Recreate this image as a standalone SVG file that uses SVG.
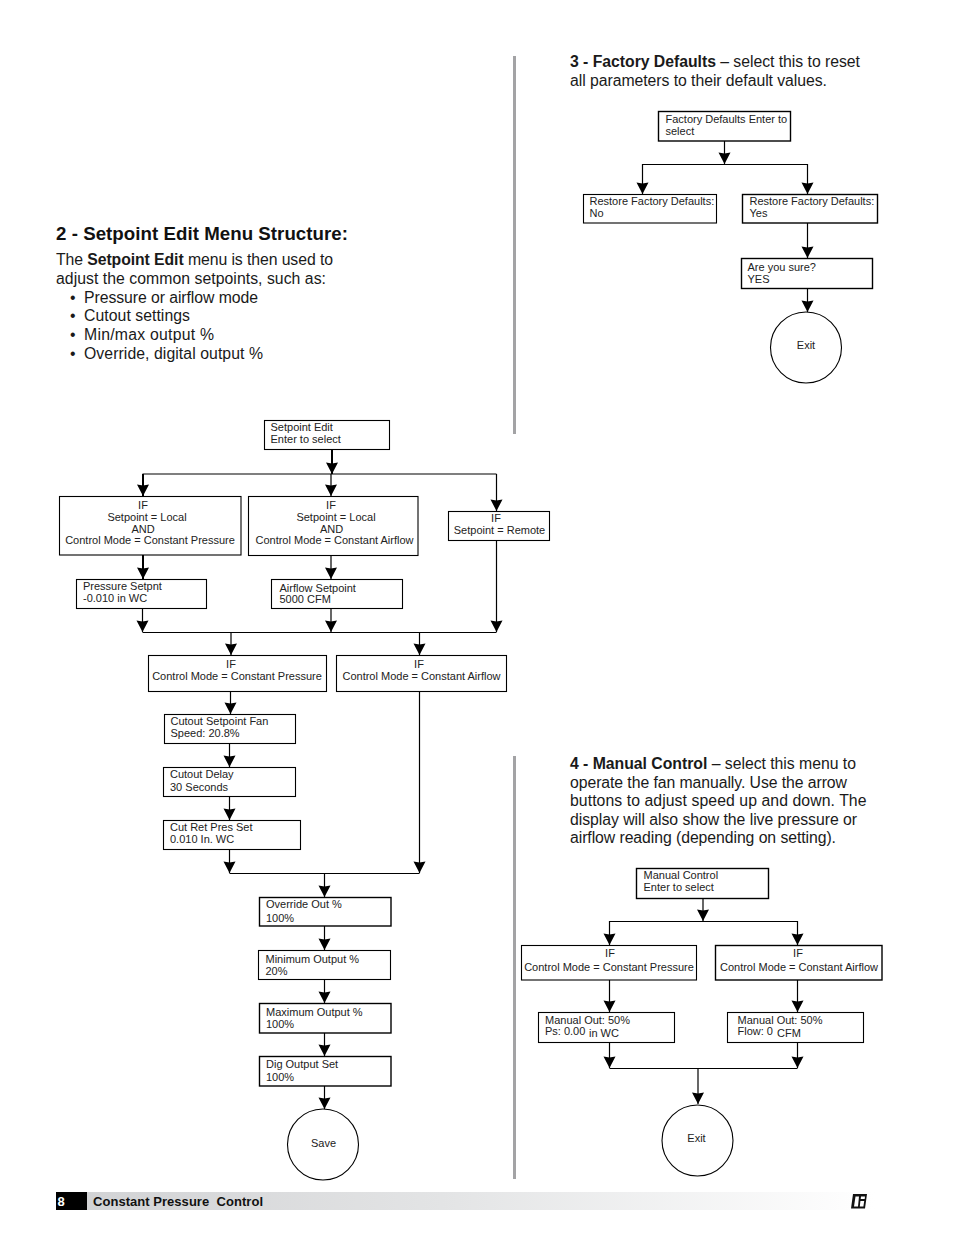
<svg xmlns="http://www.w3.org/2000/svg" width="954" height="1235" viewBox="0 0 954 1235">
<style>
text{font-family:"Liberation Sans",Arial,sans-serif;fill:#111}
.b{font-size:15.8px;fill:#1a1a1a}
.h{font-size:18.7px;font-weight:bold}
.s{font-size:11px;fill:#222}
.m{text-anchor:middle}
.n rect,.n circle{fill:#fff;stroke:#000;stroke-width:1.1}
#connectors line{stroke:#000;stroke-width:1.2}
#connectors line.a{marker-end:url(#arr)}
</style>
<defs>
<marker id="arr" markerUnits="userSpaceOnUse" markerWidth="13" markerHeight="13" refX="12" refY="6.5" orient="auto"><path d="M0.500 0.500L12 6.500L0.500 12.500L1.500 6.500Z" fill="#000"/></marker>
<linearGradient id="fg" x1="0" x2="1" y1="0" y2="0"><stop offset="0" stop-color="#d2d3d5"/><stop offset="0.45" stop-color="#e3e4e5"/><stop offset="1" stop-color="#fff"/></linearGradient>
</defs>
<rect width="954" height="1235" fill="#fff"/>
<rect x="513" y="56" width="3" height="378" fill="#a3a3a5"/>
<rect x="513" y="756" width="3" height="423" fill="#a3a3a5"/>

<g id="page-text">
<text class="h" x="56" y="239.500" textLength="292">2 - Setpoint Edit Menu Structure:</text>
<text class="b" x="56" y="265" textLength="277">The <tspan font-weight="bold">Setpoint Edit</tspan> menu is then used to</text>
<text class="b" x="56" y="284" textLength="270">adjust the common setpoints, such as:</text>
<text class="b" x="70" y="303">•</text><text class="b" x="84" y="303" textLength="174">Pressure or airflow mode</text>
<text class="b" x="70" y="321">•</text><text class="b" x="84" y="321" textLength="106">Cutout settings</text>
<text class="b" x="70" y="340">•</text><text class="b" x="84" y="340" textLength="130">Min/max output %</text>
<text class="b" x="70" y="359">•</text><text class="b" x="84" y="359" textLength="179">Override, digital output %</text>
<text class="b" x="570" y="67" textLength="290"><tspan font-weight="bold">3 - Factory Defaults</tspan> – select this to reset</text>
<text class="b" x="570" y="86" textLength="257">all parameters to their default values.</text>
<text class="b" x="570" y="769" textLength="286"><tspan font-weight="bold">4 - Manual Control</tspan> – select this menu to</text>
<text class="b" x="570" y="787.500" textLength="277">operate the fan manually. Use the arrow</text>
<text class="b" x="570" y="806" textLength="296.500">buttons to adjust speed up and down. The</text>
<text class="b" x="570" y="824.500" textLength="287">display will also show the live pressure or</text>
<text class="b" x="570" y="843" textLength="266">airflow reading (depending on setting).</text>
</g>

<g id="connectors">
<line x1="332" y1="450" x2="332" y2="474" class="a" style="stroke-width:2"/>
<line x1="142.500" y1="474" x2="496.500" y2="474"/>
<line x1="143" y1="474" x2="143" y2="496" class="a" style="stroke-width:2"/>
<line x1="331" y1="474" x2="331" y2="496" class="a"/>
<line x1="496.500" y1="474" x2="496.500" y2="511" class="a"/>
<line x1="143" y1="555" x2="143" y2="579" class="a" style="stroke-width:2"/>
<line x1="331" y1="555" x2="331" y2="579" class="a"/>
<line x1="142.500" y1="608" x2="142.500" y2="632" class="a"/>
<line x1="331" y1="608" x2="331" y2="632" class="a"/>
<line x1="496.500" y1="540" x2="496.500" y2="632" class="a"/>
<line x1="142.500" y1="632.500" x2="496.500" y2="632.500"/>
<line x1="231" y1="632" x2="231" y2="655" class="a"/>
<line x1="419.500" y1="632" x2="419.500" y2="655" class="a"/>
<line x1="230.500" y1="691" x2="230.500" y2="714" class="a"/>
<line x1="229.500" y1="743" x2="229.500" y2="767" class="a"/>
<line x1="229.500" y1="796" x2="229.500" y2="820" class="a"/>
<line x1="229.500" y1="849" x2="229.500" y2="873" class="a"/>
<line x1="419.500" y1="691" x2="419.500" y2="873" class="a"/>
<line x1="229.500" y1="873.500" x2="419.500" y2="873.500"/>
<line x1="324.500" y1="873" x2="324.500" y2="897" class="a"/>
<line x1="324.500" y1="926" x2="324.500" y2="950" class="a"/>
<line x1="324.500" y1="979" x2="324.500" y2="1003" class="a"/>
<line x1="324.500" y1="1033" x2="324.500" y2="1056" class="a"/>
<line x1="324.500" y1="1086" x2="324.500" y2="1109" class="a"/>
<line x1="724.500" y1="141" x2="724.500" y2="164" class="a"/>
<line x1="642.500" y1="164.500" x2="807.500" y2="164.500"/>
<line x1="642.500" y1="164" x2="642.500" y2="194" class="a"/>
<line x1="807.500" y1="164" x2="807.500" y2="194" class="a"/>
<line x1="807.500" y1="222" x2="807.500" y2="258" class="a"/>
<line x1="807.500" y1="288" x2="807.500" y2="312" class="a"/>
<line x1="703" y1="898" x2="703" y2="921" class="a"/>
<line x1="609.500" y1="921.500" x2="797.500" y2="921.500"/>
<line x1="609.500" y1="921" x2="609.500" y2="945" class="a"/>
<line x1="797.500" y1="921" x2="797.500" y2="945" class="a"/>
<line x1="609.500" y1="980" x2="609.500" y2="1012" class="a"/>
<line x1="797.500" y1="980" x2="797.500" y2="1012" class="a"/>
<line x1="609.500" y1="1042" x2="609.500" y2="1068" class="a"/>
<line x1="797.500" y1="1042" x2="797.500" y2="1068" class="a"/>
<line x1="609.500" y1="1068.500" x2="797.500" y2="1068.500"/>
<line x1="698" y1="1068" x2="698" y2="1104" class="a"/>
</g>

<g id="setpoint-edit" class="n"><rect x="264.500" y="420.500" width="125" height="29"/><text class="s" x="270.500" y="431">Setpoint Edit</text><text class="s" x="270.500" y="443">Enter to select</text></g>
<g id="if-local-pressure" class="n"><rect x="59.500" y="496.500" width="181.500" height="58.500"/><text class="s m" x="143" y="509">IF</text><text class="s m" x="147" y="521">Setpoint = Local</text><text class="s m" x="143" y="533">AND</text><text class="s m" x="150" y="544">Control Mode = Constant Pressure</text></g>
<g id="if-local-airflow" class="n"><rect x="248.500" y="496.500" width="169.500" height="59"/><text class="s m" x="331" y="509">IF</text><text class="s m" x="336" y="521">Setpoint = Local</text><text class="s m" x="331.500" y="533">AND</text><text class="s m" x="334.500" y="544">Control Mode = Constant Airflow</text></g>
<g id="if-remote" class="n"><rect x="448.500" y="511.500" width="101" height="29"/><text class="s m" x="496" y="522">IF</text><text class="s m" x="499.500" y="534">Setpoint = Remote</text></g>
<g id="pressure-setpnt" class="n"><rect x="76.500" y="579.500" width="130" height="29"/><text class="s" x="83" y="590">Pressure Setpnt</text><text class="s" x="83" y="602">-0.010 in WC</text></g>
<g id="airflow-setpoint" class="n"><rect x="271.500" y="579.500" width="131" height="29"/><text class="s" x="279.500" y="592">Airflow Setpoint</text><text class="s" x="279.500" y="603">5000 CFM</text></g>
<g id="if-cm-pressure" class="n"><rect x="148.500" y="655.500" width="178" height="36"/><text class="s m" x="231" y="668">IF</text><text class="s m" x="237" y="680">Control Mode = Constant Pressure</text></g>
<g id="if-cm-airflow" class="n"><rect x="336.500" y="655.500" width="170" height="36"/><text class="s m" x="419" y="668">IF</text><text class="s m" x="421.500" y="680">Control Mode = Constant Airflow</text></g>
<g id="cutout-setpoint" class="n"><rect x="164.500" y="714.500" width="131" height="29"/><text class="s" x="170.500" y="725">Cutout Setpoint Fan</text><text class="s" x="170.500" y="737">Speed: 20.8%</text></g>
<g id="cutout-delay" class="n"><rect x="163.500" y="767.500" width="132" height="29"/><text class="s" x="170" y="778">Cutout Delay</text><text class="s" x="170" y="791">30 Seconds</text></g>
<g id="cut-ret" class="n"><rect x="163.500" y="820.500" width="137" height="29"/><text class="s" x="170" y="831">Cut Ret Pres Set</text><text class="s" x="170" y="843">0.010 In. WC</text></g>
<g id="override" class="n"><rect x="259.500" y="897.500" width="131.500" height="28.500" style="stroke-width:1.4"/><text class="s" x="266" y="908">Override Out %</text><text class="s" x="266" y="922">100%</text></g>
<g id="minimum" class="n"><rect x="258.500" y="950.500" width="132" height="29"/><text class="s" x="265.500" y="963">Minimum Output %</text><text class="s" x="265.500" y="975">20%</text></g>
<g id="maximum" class="n"><rect x="259.500" y="1003.500" width="131.500" height="29.500" style="stroke-width:1.4"/><text class="s" x="266" y="1016">Maximum Output %</text><text class="s" x="266" y="1028">100%</text></g>
<g id="dig-output" class="n"><rect x="259.500" y="1056.500" width="131.500" height="29.500" style="stroke-width:1.4"/><text class="s" x="266" y="1068">Dig Output Set</text><text class="s" x="266" y="1081">100%</text></g>
<g id="save" class="n"><circle cx="323" cy="1144.500" r="35.500"/><text class="s m" x="323.500" y="1147">Save</text></g>

<g id="factory-defaults" class="n"><rect x="658.500" y="111.500" width="132" height="29.500" style="stroke-width:1.4"/><text class="s" x="665.500" y="123">Factory Defaults Enter to</text><text class="s" x="665.500" y="135">select</text></g>
<g id="restore-no" class="n"><rect x="583.500" y="194.500" width="133" height="28.500"/><text class="s" x="589.500" y="205">Restore Factory Defaults:</text><text class="s" x="589.500" y="217">No</text></g>
<g id="restore-yes" class="n"><rect x="742.500" y="194.500" width="135" height="28.500" style="stroke-width:1.4"/><text class="s" x="749.500" y="205">Restore Factory Defaults:</text><text class="s" x="749.500" y="217">Yes</text></g>
<g id="are-you-sure" class="n"><rect x="741.500" y="258.500" width="131" height="30" style="stroke-width:1.4"/><text class="s" x="747.500" y="271">Are you sure?</text><text class="s" x="747.500" y="283">YES</text></g>
<g id="exit-factory" class="n"><circle cx="806" cy="347.500" r="35.500"/><text class="s m" x="806" y="349">Exit</text></g>

<g id="manual-control" class="n"><rect x="636.500" y="868.500" width="132" height="30" style="stroke-width:1.4"/><text class="s" x="643.500" y="879">Manual Control</text><text class="s" x="643.500" y="891">Enter to select</text></g>
<g id="manual-if-pressure" class="n"><rect x="521.500" y="945.500" width="175" height="34.500"/><text class="s m" x="610" y="957">IF</text><text class="s m" x="609" y="971">Control Mode = Constant Pressure</text></g>
<g id="manual-if-airflow" class="n"><rect x="715.500" y="945.500" width="166.500" height="34.500" style="stroke-width:1.4"/><text class="s m" x="798" y="957">IF</text><text class="s m" x="799" y="971">Control Mode = Constant Airflow</text></g>
<g id="manual-out-ps" class="n"><rect x="538.500" y="1012.500" width="136" height="30"/><text class="s" x="545" y="1024">Manual Out: 50%</text><text class="s" x="545" y="1035">Ps: 0.00</text><text class="s" x="589" y="1037">in WC</text></g>
<g id="manual-out-flow" class="n"><rect x="727.500" y="1012.500" width="136" height="30"/><text class="s" x="737.500" y="1024">Manual Out: 50%</text><text class="s" x="737.500" y="1035">Flow: 0</text><text class="s" x="777" y="1037">CFM</text></g>
<g id="exit-manual" class="n"><circle cx="697.500" cy="1140.500" r="35.500"/><text class="s m" x="696.500" y="1142">Exit</text></g>

<g id="footer">
<rect x="87" y="1192" width="788" height="18" fill="url(#fg)"/>
<rect x="56" y="1192" width="31" height="18" fill="#000"/>
<text x="57.500" y="1205.500" style="font-size:13px;font-weight:bold;fill:#fff">8</text>
<text x="93" y="1205.500" textLength="170" style="font-size:13px;font-weight:bold;white-space:pre" xml:space="preserve">Constant Pressure  Control</text>
<path d="M853 1194H867L865 1208.500H851ZM855.500 1196.500L854 1206.500H858L859 1196.500ZM861 1196.500L860.700 1199H864.700L865 1196.500ZM860.400 1201L859.800 1206.500H863.400L864.200 1201Z" fill="#111" fill-rule="evenodd"/>
</g>
</svg>
